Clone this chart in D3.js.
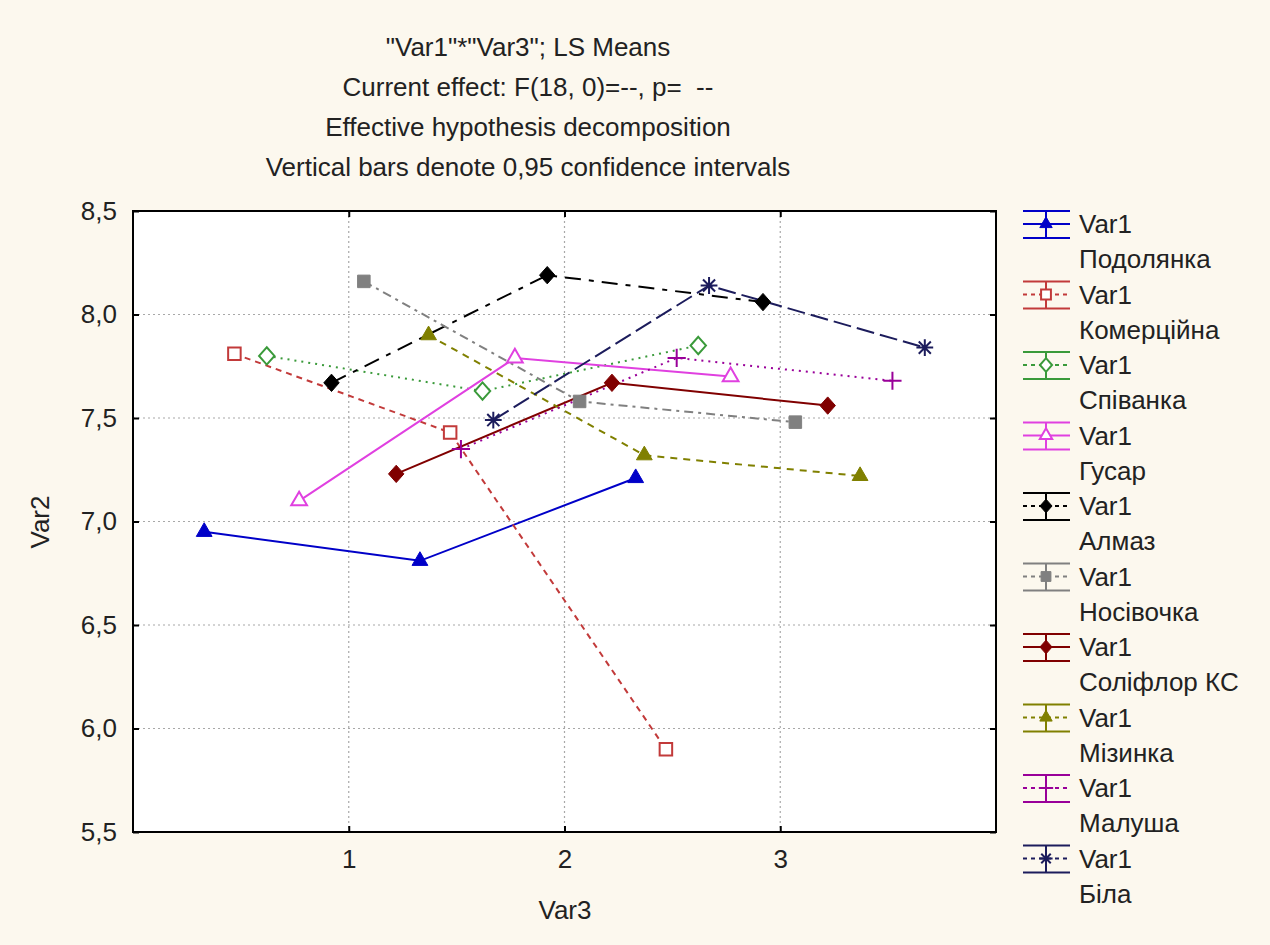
<!DOCTYPE html>
<html><head><meta charset="utf-8">
<script src="https://cdn.jsdelivr.net/npm/d3@7"></script>
<style>
body{margin:0;background:#fcf8ee;}
svg{display:block;}
text{font-family:"Liberation Sans",Arial,sans-serif;fill:#222;white-space:pre;}
</style></head>
<body>
<script>
// ---- data ----
const titleLines = ['"Var1"*"Var3"; LS Means','Current effect: F(18, 0)=--, p=  --','Effective hypothesis decomposition','Vertical bars denote 0,95 confidence intervals'];
const xLabel = "Var3", yLabel = "Var2";
const xTicks = [1,2,3];
const yTicks = [5.5,6.0,6.5,7.0,7.5,8.0,8.5];
const seriesNames = ["Подолянка","Комерційна","Співанка","Гусар","Алмаз","Носівочка","Соліфлор КС","Мізинка","Малуша","Біла"];
const podolyankaX = [0.33,1.33,2.33], podolyankaY = [6.95,6.81,7.21];
const komertsiynaX = [0.47,1.47,2.47], komertsiynaY = [7.81,7.43,5.90];
const spivankaX = [0.62,1.62,2.62], spivankaY = [7.80,7.63,7.85];
const husarX = [0.77,1.77,2.77], husarY = [7.10,7.79,7.70];
const almazX = [0.92,1.92,2.92], almazY = [7.67,8.19,8.06];
const nosivochkaX = [1.07,2.07,3.07], nosivochkaY = [8.16,7.58,7.48];
const soliflorX = [1.22,2.22,3.22], soliflorY = [7.23,7.67,7.56];
const mizynkaX = [1.37,2.37,3.37], mizynkaY = [7.90,7.32,7.22];
const malushaX = [1.52,2.52,3.52], malushaY = [7.35,7.79,7.68];
const bilaX = [1.67,2.67,3.67], bilaY = [7.49,8.14,7.84];
const seriesX = [podolyankaX,komertsiynaX,spivankaX,husarX,almazX,nosivochkaX,soliflorX,mizynkaX,malushaX,bilaX];
const seriesY = [podolyankaY,komertsiynaY,spivankaY,husarY,almazY,nosivochkaY,soliflorY,mizynkaY,malushaY,bilaY];

// ---- styles ----
const styles = [
 {color:"#0000c8", dash:null, marker:"triangle", fill:true},
 {color:"#c23a3a", dash:"6,5", marker:"square", fill:false},
 {color:"#3a9a3a", dash:"2,5", marker:"diamond", fill:false},
 {color:"#e040e0", dash:null, marker:"triangle", fill:false},
 {color:"#000000", dash:"16,8,5,8", marker:"diamond", fill:true},
 {color:"#808080", dash:"9,5,3,5", marker:"square", fill:true},
 {color:"#800000", dash:null, marker:"diamond", fill:true},
 {color:"#808000", dash:"7,6", marker:"triangle", fill:true},
 {color:"#990099", dash:"2,5", marker:"plus", fill:false},
 {color:"#1c1c5c", dash:"18,6", marker:"asterisk", fill:false}
];

const FS="26px";
const W=1270,H=945;
const m={left:133,top:211,right:996,bottom:832};
const svg=d3.select("body").append("svg").attr("width",W).attr("height",H);
svg.append("rect").attr("width",W).attr("height",H).attr("fill","#fcf8ee");

const x=d3.scaleLinear().domain([0,4]).range([m.left,m.right]);
const y=d3.scaleLinear().domain([5.5,8.5]).range([m.bottom,m.top]);

// title
svg.append("g").selectAll("text").data(titleLines).join("text")
 .attr("x",528).attr("y",(d,i)=>47+i*40).attr("dy","0.35em")
 .attr("text-anchor","middle").style("font-size",FS).text(d=>d);

// plot bg
svg.append("rect").attr("x",m.left).attr("y",m.top).attr("width",m.right-m.left).attr("height",m.bottom-m.top).attr("fill","#fff");

// grid
const grid=svg.append("g").attr("stroke","#a8a8a8").attr("stroke-dasharray","2,3").attr("stroke-width",1.2);
grid.selectAll(".gx").data(xTicks).join("line").attr("x1",d=>x(d)).attr("x2",d=>x(d)).attr("y1",m.top).attr("y2",m.bottom);
grid.selectAll(".gy").data(yTicks.slice(1,-1)).join("line").attr("y1",d=>y(d)).attr("y2",d=>y(d)).attr("x1",m.left).attr("x2",m.right);

// axes
const fmt=d=>d3.format(".1f")(d).replace(".",",");
const ay=svg.append("g").attr("transform",`translate(${m.left},0)`).call(d3.axisLeft(y).tickValues(yTicks).tickSize(-6).tickPadding(16).tickFormat(fmt));
const ay2=svg.append("g").attr("transform",`translate(${m.right},0)`).call(d3.axisRight(y).tickValues(yTicks).tickSize(-6).tickFormat(""));
const ax=svg.append("g").attr("transform",`translate(0,${m.bottom})`).call(d3.axisBottom(x).tickValues(xTicks).tickSize(-6).tickPadding(18).tickFormat(d3.format("d")));
const ax2=svg.append("g").attr("transform",`translate(0,${m.top})`).call(d3.axisTop(x).tickValues(xTicks).tickSize(-6).tickFormat(""));
[ay,ay2,ax,ax2].forEach(g=>{g.select(".domain").remove();g.selectAll(".tick line").attr("stroke","#000").attr("stroke-width",2);g.selectAll("text").style("font-size",FS).attr("fill","#222").style("font-family","Liberation Sans, Arial, sans-serif");});
svg.append("rect").attr("x",m.left).attr("y",m.top).attr("width",m.right-m.left).attr("height",m.bottom-m.top).attr("fill","none").attr("stroke","#000").attr("stroke-width",2);

svg.append("text").attr("x",565).attr("y",910).attr("dy","0.35em").attr("text-anchor","middle").style("font-size",FS).text(xLabel);
svg.append("text").attr("transform","translate(40,522) rotate(-90)").attr("dy","0.35em").attr("text-anchor","middle").style("font-size",FS).text(yLabel);

// markers
function markerPath(type,s){
 if(type==="triangle") return d3.symbol(d3.symbolTriangle,s*s*0.55)();
 if(type==="square") return d3.symbol(d3.symbolSquare,s*s*0.8)();
 if(type==="diamond") return `M0,${-s*0.62}L${s*0.55},0L0,${s*0.62}L${-s*0.55},0Z`;
 if(type==="plus") {const r=s*0.65;return `M${-r},0H${r}M0,${-r}V${r}`;}
 if(type==="asterisk"){const r=s*0.6,q=r*0.72;return `M${-r},0H${r}M0,${-r}V${r}M${-q},${-q}L${q},${q}M${-q},${q}L${q},${-q}`;}
}
function drawMarker(g,st,cx,cy,s){
 const p=g.append("path").attr("d",markerPath(st.marker,s)).attr("transform",`translate(${cx},${cy})`);
 if(st.marker==="plus"||st.marker==="asterisk") p.attr("fill","none").attr("stroke",st.color).attr("stroke-width",2);
 else if(st.fill) p.attr("fill",st.color).attr("stroke",st.color).attr("stroke-width",1);
 else p.attr("fill","#fff").attr("stroke",st.color).attr("stroke-width",2);
}

const line=d3.line().x(d=>x(d[0])).y(d=>y(d[1]));
const plot=svg.append("g");
seriesNames.forEach((n,i)=>{
 const pts=seriesX[i].map((v,j)=>[v,seriesY[i][j]]);
 const st=styles[i];
 plot.append("path").attr("d",line(pts)).attr("fill","none").attr("stroke",st.color).attr("stroke-width",2).attr("stroke-dasharray",st.dash);
});
seriesNames.forEach((n,i)=>{
 const st=styles[i];
 seriesX[i].forEach((v,j)=>drawMarker(plot,st,x(v),y(seriesY[i][j]),14));
});

// legend
const lg=svg.append("g");
seriesNames.forEach((n,i)=>{
 const st=styles[i];
 const cy=224+i*70.5;
 const g=lg.append("g");
 g.append("line").attr("x1",1023).attr("x2",1070).attr("y1",cy-13).attr("y2",cy-13).attr("stroke",st.color).attr("stroke-width",2);
 g.append("line").attr("x1",1023).attr("x2",1070).attr("y1",cy+14).attr("y2",cy+14).attr("stroke",st.color).attr("stroke-width",2);
 g.append("line").attr("x1",1046).attr("x2",1046).attr("y1",cy-13).attr("y2",cy+14).attr("stroke",st.color).attr("stroke-width",2);
 g.append("line").attr("x1",1023).attr("x2",1070).attr("y1",cy).attr("y2",cy).attr("stroke",st.color).attr("stroke-width",2).attr("stroke-dasharray",st.dash?"4,4":null);
 drawMarker(g,st,1046,cy,11);
 g.append("text").attr("x",1079).attr("y",cy).attr("dy","0.35em").style("font-size",FS).text("Var1");
 g.append("text").attr("x",1079).attr("y",cy+35).attr("dy","0.35em").style("font-size",FS).text(n);
});
</script>
</body></html>
